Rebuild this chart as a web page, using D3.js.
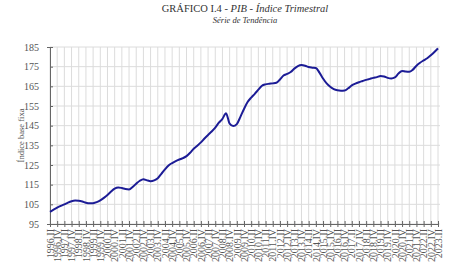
<!DOCTYPE html>
<html>
<head>
<meta charset="utf-8">
<script src="https://cdn.jsdelivr.net/npm/d3@7"></script>
<style>
  body { margin: 0; background: #fff; }
  svg { display: block; font-family: "Liberation Serif", "Times New Roman", serif; }
</style>
</head>
<body>
<svg id="chart"></svg>
<script>
// quarterly trend index, 1996.II .. 2023.II
const startYear = 1996, startQuarter = 2
const values = [
  101.2, 102.3, 103.3, 104.2, 105.0, 105.9, 106.6, 106.9, 106.8, 106.4,
  105.8, 105.5, 105.6, 106.1, 107.0, 108.3, 109.8, 111.5, 113.0, 113.6,
  113.3, 112.8, 112.6, 113.8, 115.5, 117.0, 117.8, 117.2, 116.8, 117.2,
  118.3, 120.5, 122.8, 124.8, 126.0, 127.0, 127.8, 128.5, 129.5, 131.2,
  133.3, 134.8, 136.5, 138.5, 140.3, 142.0, 144.0, 146.5, 148.5, 151.3,
  146.0, 144.8, 145.8, 149.5, 153.5, 157.0, 159.3, 161.2, 163.3, 165.3,
  166.0, 166.3, 166.5, 166.8, 168.5, 170.5, 171.3, 172.3, 174.0, 175.3,
  175.8, 175.5, 174.8, 174.5, 174.3, 172.0, 169.0, 166.5, 164.8, 163.6,
  163.0, 162.8, 162.9, 164.0, 165.5, 166.4, 167.1, 167.7, 168.3, 168.8,
  169.3, 169.7, 170.3, 170.0, 169.3, 169.0, 169.5, 171.5, 172.8, 172.5,
  172.4, 173.5, 175.5, 177.0, 178.2, 179.3, 180.8, 182.5, 184.3
]
const roman = ["I", "II", "III", "IV"]
const quarters = values.map((v, i) => {
  const q = startQuarter - 1 + i
  return startYear + Math.floor(q / 4) + "." + roman[q % 4]
})
// labels shown every other quarter
const tickLabels = quarters.filter((d, i) => i % 2 === 0)
const yTicks = [95, 105, 115, 125, 135, 145, 155, 165, 175, 185]

const svgWidth = 474, svgHeight = 279
const margin = { top: 47, right: 36, bottom: 55, left: 50 }
const width = svgWidth - margin.left - margin.right
const height = svgHeight - margin.top - margin.bottom

const svg = d3.select("#chart")
  .attr("width", svgWidth)
  .attr("height", svgHeight)

svg.append("text")
  .attr("x", 245).attr("y", 12)
  .attr("text-anchor", "middle")
  .attr("font-size", 10.5)
  .attr("fill", "#333")
  .call(t => {
    t.append("tspan").text("GRÁFICO I.4 - ")
    t.append("tspan").attr("font-style", "italic").text("PIB - Índice Trimestral")
  })

svg.append("text")
  .attr("x", 245).attr("y", 23)
  .attr("text-anchor", "middle")
  .attr("font-size", 8.5)
  .attr("font-style", "italic")
  .attr("fill", "#333")
  .text("Série de Tendência")

const g = svg.append("g")
  .attr("transform", "translate(" + margin.left + "," + margin.top + ")")

const x = d3.scalePoint().domain(quarters).range([0, width])
const y = d3.scaleLinear().domain([95, 185]).range([height, 0])

// grid
g.append("g")
  .selectAll("line")
  .data(yTicks)
  .join("line")
  .attr("x1", 0).attr("x2", width + 2)
  .attr("y1", d => y(d)).attr("y2", d => y(d))
  .attr("stroke", "#dcdcdc")

g.append("g")
  .selectAll("line")
  .data(tickLabels)
  .join("line")
  .attr("x1", d => x(d)).attr("x2", d => x(d))
  .attr("y1", 0).attr("y2", height)
  .attr("stroke", "#dcdcdc")

// axes
const yAxis = g.append("g")
  .call(d3.axisLeft(y).tickValues(yTicks).tickSize(3).tickPadding(8))
yAxis.selectAll(".tick line").attr("x2", 3)
yAxis.select(".domain").attr("stroke", "#666")
yAxis.selectAll(".tick line").attr("stroke", "#666")
yAxis.selectAll("text")
  .attr("font-family", "Liberation Serif, serif")
  .attr("font-size", 10)
  .attr("fill", "#555")

const xAxis = g.append("g")
  .attr("transform", "translate(0," + height + ")")
  .call(d3.axisBottom(x).tickValues(tickLabels).tickSize(3).tickSizeOuter(0))
xAxis.selectAll(".tick line").attr("y1", -3).attr("stroke", "#666")
xAxis.select(".domain").attr("stroke", "#666")
xAxis.selectAll("text")
  .attr("font-family", "Liberation Serif, serif")
  .attr("font-size", 10)
  .attr("fill", "#555")
  .attr("text-anchor", "end")
  .attr("transform", "rotate(-90)")
  .attr("x", -5)
  .attr("y", 0)
  .attr("dy", "0.32em")

svg.append("text")
  .attr("transform", "translate(24," + (margin.top + height / 2) + ") rotate(-90)")
  .attr("text-anchor", "middle")
  .attr("font-size", 8.5)
  .attr("fill", "#555")
  .text("Índice base fixa")

const line = d3.line()
  .x((d, i) => x(quarters[i]))
  .y(d => y(d))
  .curve(d3.curveMonotoneX)

g.append("path")
  .datum(values)
  .attr("fill", "none")
  .attr("stroke", "#1c1c96")
  .attr("stroke-width", 2)
  .attr("stroke-linejoin", "round")
  .attr("d", line)
</script>
</body>
</html>
